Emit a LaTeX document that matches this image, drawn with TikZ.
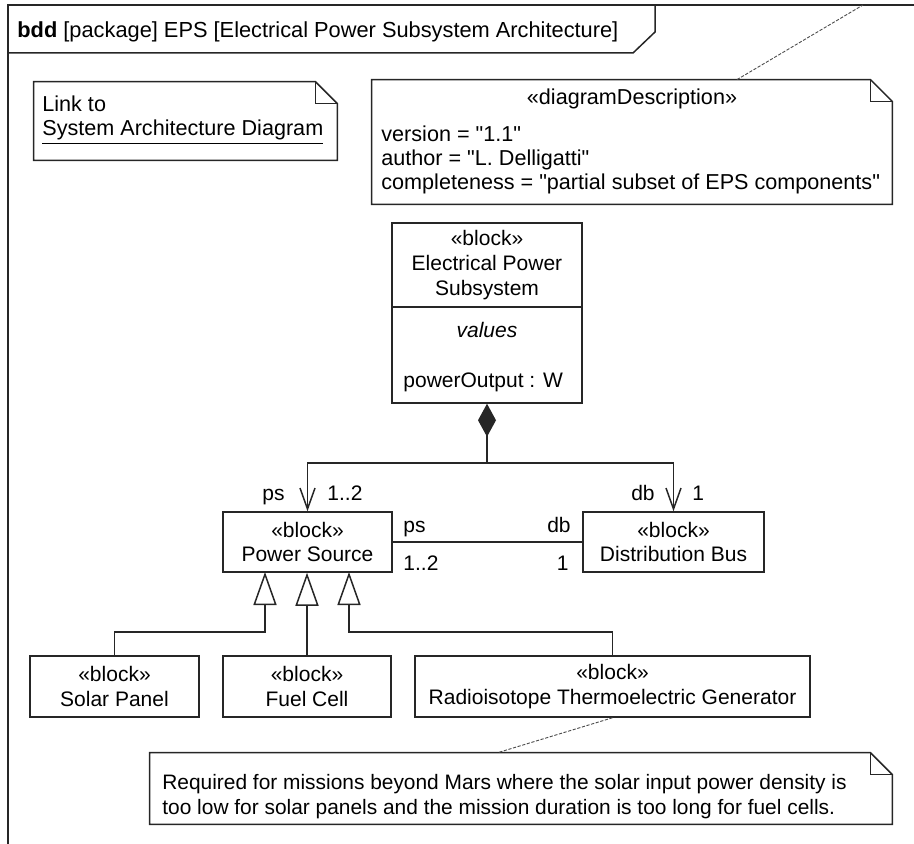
\documentclass[tikz,border=0pt]{standalone}
\usepackage{fontspec}
\setmainfont{Liberation Sans}
\newfontfamily\lib{Liberation Sans}
\usetikzlibrary{arrows.meta}
\newcommand\drawnote[1]{%
  \draw[ln] (#1.north west) -- ([xshift=-11pt]#1.north east) -- ([yshift=-11pt]#1.north east) -- (#1.south east) -- (#1.south west) -- cycle;
  \draw[ln] ([xshift=-11pt]#1.north east) |- ([yshift=-11pt]#1.north east);}
\begin{document}
\begin{tikzpicture}[x=0.5pt,y=-0.5pt,
  font=\lib\fontsize{10.5}{12.3}\selectfont,
  ln/.style={draw=black!85, line width=0.75pt},
  block/.style={ln, fill=white, align=center, inner sep=0pt},
  note/.style={inner sep=0pt},
  lbl/.style={inner sep=0pt},
  dtext/.style={lbl, font=\lib\fontsize{10.8}{12.6}\selectfont},
  ctext/.style={lbl, font=\lib\fontsize{10.45}{12}\selectfont},
  anch/.style={draw=black!70, line width=0.45pt, dash pattern=on 1.6pt off 0.8pt},
  comp/.style={ln, {Diamond[length=16.5pt,width=9pt,fill=black!85]}-},
  nav/.style={ln, -{Straight Barb[length=10.5pt,width=7.5pt]}},
  gen/.style={ln, -{Triangle[open,length=16.5pt,width=11.5pt,fill=white]}},
]
\useasboundingbox (0,0) rectangle (914,844);
% frame
\draw[ln] (914,5) -- (8,5) -- (8,844);
\draw[ln] (8,53) -- (633,53) -- (655,32) -- (655,5);
\node[lbl, anchor=base west, font=\lib\fontsize{10.9}{13}\selectfont] (title) at (17,38) {\textbf{bdd} [package] EPS [Electrical Power Subsystem Architecture]};
\coordinate (frtop) at (863,5);

% link note
\node[note, minimum width=151.5pt, minimum height=39pt] (link) at (185.5,121) {};
\drawnote{link}
\node[dtext, anchor=base west] (link1) at (42,112) {Link to};
\node[dtext, anchor=base west] (link2) at (42,136) {\underline{System Architecture Diagram}};

% description note
\node[note, minimum width=260pt, minimum height=62pt] (desc) at (632,142) {};
\drawnote{desc}
\node[dtext, anchor=base] (dtitle) at (632,105) {«diagramDescription»};
\node[dtext, anchor=base west] (d1) at (381,141.5) {version = "1.1"};
\node[dtext, anchor=base west] (d2) at (381,165.5) {author = "L. Delligatti"};
\node[dtext, anchor=base west] (d3) at (381,189.5) {completeness = "partial subset of EPS components"};
\draw[anch] ([xshift=52.5pt]desc.north) -- (frtop);

% EPS block
\node[block, minimum width=95pt, minimum height=42pt] (epsh) at (487,265) {«block»\\Electrical Power\\Subsystem};
\node[block, minimum width=95pt, minimum height=48pt] (epsv) at (487,355) {};
\node[lbl, anchor=base] (vals) at (487,337) {\textit{values}};
\node[lbl, anchor=base west] (pout) at (403,387) {powerOutput : W};

% parts
\node[block, minimum width=84.5pt, minimum height=30pt] (ps) at (307.5,542) {«block»\\Power Source};
\node[block, minimum width=90.5pt, minimum height=30pt] (db) at (673.5,542) {«block»\\Distribution Bus};

\coordinate (j) at (487,463);
\draw[comp] (epsv.south) -- (j);
\draw[nav] (j) -| (ps.north);
\draw[nav] (j) -| (db.north);
\node[lbl, anchor=base east] (lps) at (285,500) {ps};
\node[lbl, anchor=base west] (lpsm) at (327,500) {1..2};
\node[lbl, anchor=base east] (ldb) at (655,500) {db};
\node[lbl, anchor=base west] (ldbm) at (692,500) {1};

\draw[ln] (ps.east) -- (db.west);
\node[lbl, anchor=base west] (aps) at (403,532) {ps};
\node[lbl, anchor=base west] (apsm) at (403,570) {1..2};
\node[lbl, anchor=base east] (adb) at (571,532) {db};
\node[lbl, anchor=base east] (adbm) at (569,570) {1};

% specializations
\node[block, minimum width=84.5pt, minimum height=30.5pt] (sp) at (114.5,686.5) {«block»\\Solar Panel};
\node[block, minimum width=84pt, minimum height=30.5pt] (fc) at (307,686.5) {«block»\\Fuel Cell};
\node[block, minimum width=197.5pt, minimum height=30.5pt] (rtg) at (612.5,686.5) {«block»\\Radioisotope Thermoelectric Generator};
\coordinate (t1) at (265,572);
\coordinate (t3) at (349,572);
\coordinate (hy) at (0,632);
\draw[gen] (sp.north) |- (t1 |- hy) -- (t1);
\draw[gen] (fc.north) -- (fc.north |- ps.south);
\draw[gen] (rtg.north) |- (t3 |- hy) -- (t3);

% comment
\node[note, minimum width=371pt, minimum height=35.5pt] (cmt) at (521,788.5) {};
\drawnote{cmt}
\node[ctext, anchor=base west] (c1) at (162,789) {Required for missions beyond Mars where the solar input power density is};
\node[ctext, anchor=base west] (c2) at (162,814) {too low for solar panels and the mission duration is too long for fuel cells.};
\draw[anch] (rtg.south) -- ([xshift=-11.5pt]cmt.north);
\end{tikzpicture}
\end{document}
